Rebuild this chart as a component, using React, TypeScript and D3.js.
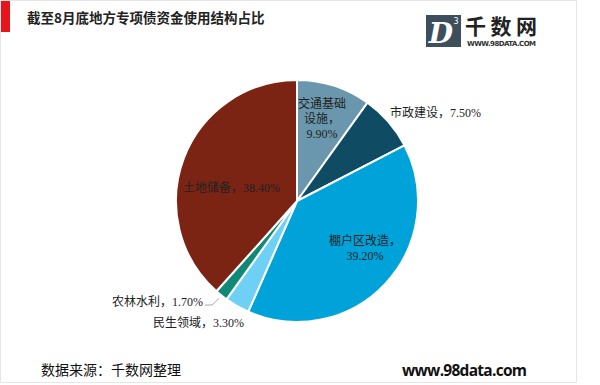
import React from 'react';
import * as d3 from 'd3';

const categories = ['交通基础设施', '市政建设', '棚户区改造', '民生领域', '农林水利', '土地储备'];
const shares = [9.9, 7.5, 39.2, 3.3, 1.7, 38.4];
const colors = ['#6a97ad', '#0f4b63', '#00a2da', '#6fd0f5', '#108a76', '#7b2414'];

// label lines per slice, as shown on the chart
const labelLines = [
  ['交通基础', '设施，', '9.90%'],
  ['市政建设，7.50%'],
  ['棚户区改造，', '39.20%'],
  ['民生领域，3.30%'],
  ['农林水利，1.70%'],
  ['土地储备，38.40%'],
];
const labelPos: [number, number, string][] = [
  [322, 108, 'middle'],
  [390, 117, 'start'],
  [365, 245, 'middle'],
  [153, 327, 'start'],
  [112, 306, 'start'],
  [183, 192, 'start'],
];

const W = 600;
const H = 385;
const cx = 297;
const cy = 201;
const r = 121;

export default function App() {
  const pie = d3.pie<number>().sort(null).value(d => d);
  const arcs = pie(shares);
  const arc = d3.arc<d3.PieArcDatum<number>>().innerRadius(0).outerRadius(r);
  const font = '"Liberation Serif", "Noto Sans CJK SC", serif';

  // leader for 农林水利
  const small = arcs[4];
  const mid = (small.startAngle + small.endAngle) / 2;
  const ex = cx + Math.sin(mid) * (r + 4);
  const ey = cy - Math.cos(mid) * (r + 4);

  return (
    <svg width={W} height={H} style={{ position: 'absolute', left: 0, top: 0, background: '#fff' }}>
      <rect x={0.5} y={0.5} width={576} height={382} fill="#fff" stroke="#e6e6e6" />
      <rect x={1} y={1} width={9} height={31} fill="#e8141b" />
      <text x={27} y={23} fontSize={13.5} fontWeight="bold" fill="#222"
        fontFamily='"Noto Sans CJK SC", sans-serif'>截至8月底地方专项债资金使用结构占比</text>

      {/* logo */}
      <g>
        <rect x={426} y={15} width={35} height={32} fill="#3d4f5c" />
        <text x={441} y={43} fontSize={28} fontStyle="italic" fontWeight="bold" fill="#fff"
          textAnchor="middle" fontFamily='"DejaVu Serif", serif'>D</text>
        <text x={456} y={24} fontSize={8} fill="#fff" textAnchor="middle"
          fontFamily='"DejaVu Sans", sans-serif'>3</text>
        <text x={465} y={34} fontSize={21} fontWeight="bold" fill="#222"
          fontFamily='"Noto Sans CJK SC", sans-serif' textLength={72}>千数网</text>
        <text x={467} y={46} fontSize={7} fontWeight="bold" fill="#333" textLength={69}
          fontFamily='"DejaVu Sans", sans-serif'>WWW.98DATA.COM</text>
      </g>

      <g transform={`translate(${cx},${cy})`}>
        {arcs.map((a, i) => (
          <path key={categories[i]} d={arc(a) || ''} fill={colors[i]} stroke="#fff" strokeWidth={2} />
        ))}
      </g>

      <polyline points={`${205},${305} ${212},${305} ${ex},${ey}`} fill="none" stroke="#a6a6a6" strokeWidth={1} />

      {labelLines.map((lines, i) => (
        <text key={categories[i]} x={labelPos[i][0]} y={labelPos[i][1]} fontSize={12}
          textAnchor={labelPos[i][2] as any} fill="#222" fontFamily={font}>
          {lines.map((t, j) => (
            <tspan key={j} x={labelPos[i][0]} dy={j === 0 ? 0 : 15}>{t}</tspan>
          ))}
        </text>
      ))}

      <text x={41} y={375} fontSize={14} fill="#111"
        fontFamily='"Noto Sans CJK SC", sans-serif'>数据来源：千数网整理</text>
      <text x={402} y={376} fontSize={15.5} fontWeight="bold" fill="#111" textLength={125}
        fontFamily='"Open Sans", "DejaVu Sans", sans-serif'>www.98data.com</text>
    </svg>
  );
}
